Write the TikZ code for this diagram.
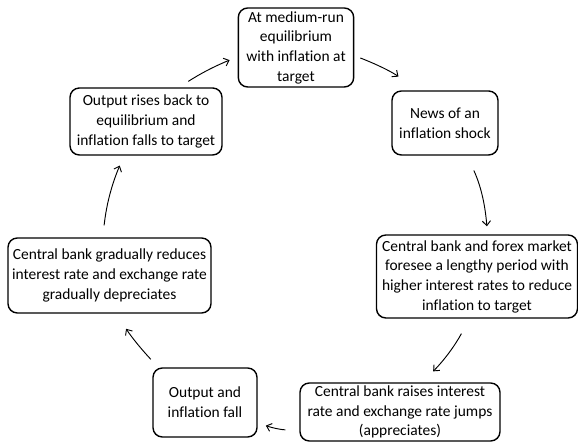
\documentclass[tikz,border=0pt]{standalone}
\usepackage{fontspec}
\setmainfont{Carlito}[Ligatures=NoCommon]
\usetikzlibrary{arrows.meta}

\begin{document}
\begin{tikzpicture}[
  box/.style={draw, line width=1.2pt, rounded corners=8pt, align=center, inner xsep=1pt, inner ysep=2pt, font=\fontsize{13.2}{16.8}\selectfont},
  arr/.style={-{Straight Barb[length=4pt,width=7pt]}, line width=0.8pt}
]
  \useasboundingbox (0,0) rectangle (17.34,13.26);

  %% Boxes, clockwise from the top
  \node[box, minimum width=3.46cm, minimum height=2.37cm] (s1) at (8.88,11.835) {At medium-run\\equilibrium\\with inflation at\\target};
  \node[box, minimum width=3.18cm, minimum height=1.92cm] (s2) at (13.35,9.57) {News of an\\inflation shock};
  \node[box, minimum width=6.03cm, minimum height=2.49cm] (s3) at (14.31,4.965) {Central bank and forex market\\foresee a lengthy period with\\higher interest rates to reduce\\inflation to target};
  \node[box, minimum width=6.0cm, minimum height=1.74cm] (s4) at (12.0,0.9) {Central bank raises interest\\rate and exchange rate jumps\\(appreciates)};
  \node[box, minimum width=3.12cm, minimum height=2.07cm] (s5) at (6.15,1.185) {Output and\\inflation fall};
  \node[box, minimum width=6.09cm, minimum height=2.25cm] (s6) at (3.285,4.995) {Central bank gradually reduces\\interest rate and exchange rate\\gradually depreciates};
  \node[box, minimum width=4.56cm, minimum height=2.01cm] (s7) at (4.38,9.615) {Output rises back to\\equilibrium and\\inflation falls to target};

  %% Arrows round the cycle
  \draw[arr, shorten <=0.33cm, shorten >=0.26cm] (s7.46) to[bend left=5] (s1.189);
  \draw[arr, shorten <=0.19cm, shorten >=0.68cm] (s1.-8) to[bend left=8] (s2.131);
  \draw[arr, shorten <=0.49cm, shorten >=0.24cm] (s2.-56) to[bend left=10] (s3.76);
  \draw[arr, shorten <=0.51cm, shorten >=0.46cm] (s3.-100) to[bend left=8] (s4.53);
  \draw[arr, shorten <=0.42cm, shorten >=0.26cm] (s4.190) to[bend left=10] (s5.-21);
  \draw[arr, shorten <=0.33cm, shorten >=0.54cm] (s5.143) to[bend left=5] (s6.-80);
  \draw[arr, shorten <=0.36cm, shorten >=0.32cm] (s6.100) to[bend left=8] (s7.-123);
\end{tikzpicture}
\end{document}
